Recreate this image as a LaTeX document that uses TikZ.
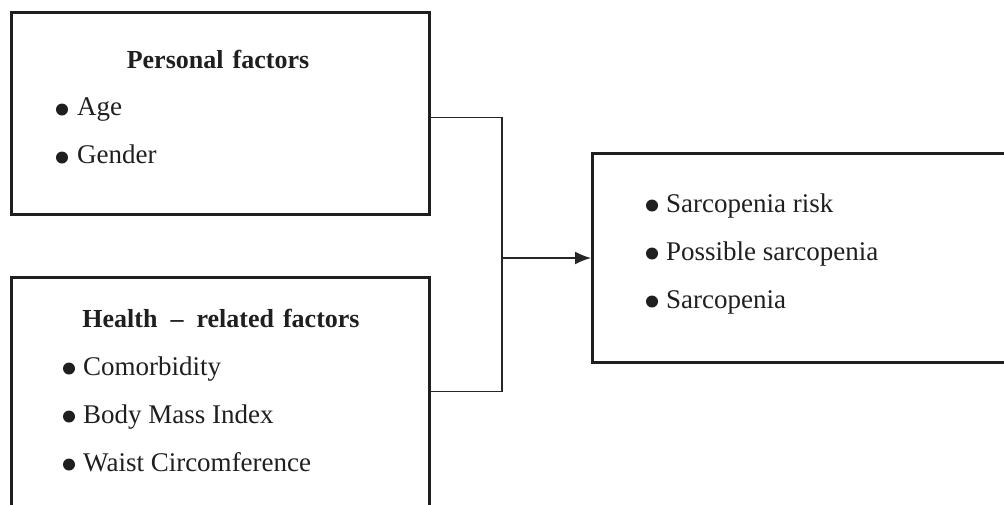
\documentclass[tikz,border=0pt]{standalone}
\usepackage{fontspec}
\setmainfont{Liberation Serif}
\usetikzlibrary{arrows.meta}
\tikzset{
  box/.style={draw=black!88, line width=3pt},
  conn/.style={draw=black!85, line width=1.5pt},
  item/.style={anchor=base west, inner sep=0pt, font=\fontsize{27}{32}\selectfont, text=black!88},
  head/.style={anchor=base, inner sep=0pt, font=\bfseries\fontsize{26}{30}\selectfont, text=black!88},
  blt/.style={fill=black!88}
}
\begin{document}
\begin{tikzpicture}[x=1pt,y=-1pt]
\useasboundingbox (0,0) rectangle (1004,504);
\clip (0,0) rectangle (1004,504);
% boxes
\node[box, minimum width=418pt, minimum height=202pt, inner sep=0pt, anchor=north west] (b1) at (9.5,11) {};
\node[box, minimum width=418pt, minimum height=234pt, inner sep=0pt, anchor=north west] (b2) at (9.5,276) {};
\node[box, minimum width=419pt, minimum height=209pt, inner sep=0pt, anchor=north west] (r) at (591,152) {};
% box 1 text
\node[head] (h1) at (218,68) {Personal\hspace{0.35em}factors};
\fill[blt] (62,109.5) circle (6);
\node[item] (t11) at (77,115) {Age};
\fill[blt] (62,157.5) circle (6);
\node[item] (t12) at (77,163) {Gender};
% box 2 text
\node[head] (h2) at (221,327) {Health\hspace{0.5em}--\hspace{0.5em}related\hspace{0.35em}factors};
\fill[blt] (69,368.5) circle (6);
\node[item] (t21) at (83,375) {Comorbidity};
\fill[blt] (69,416.5) circle (6);
\node[item] (t22) at (83,423) {Body Mass Index};
\fill[blt] (69,464.5) circle (6);
\node[item] (t23) at (83,471) {Waist Circomference};
% right box text
\fill[blt] (652,205.5) circle (6);
\node[item] (t31) at (666,212) {Sarcopenia risk};
\fill[blt] (652,253.5) circle (6);
\node[item] (t32) at (666,260) {Possible sarcopenia};
\fill[blt] (652,301.5) circle (6);
\node[item] (t33) at (666,308) {Sarcopenia};
% connectors
\coordinate (jx) at (502,0);
\coordinate (j) at (jx |- r.west);
\coordinate (a1) at ([yshift=-4pt]b1.east);
\coordinate (a2) at ([yshift=3pt]b2.east);
\draw[conn] (a1) -- (a1 -| j) -- (a2 -| j) -- (a2);
\draw[conn, -{Latex[length=16pt,width=13pt]}] (j) -- (r.west);
\end{tikzpicture}
\end{document}
